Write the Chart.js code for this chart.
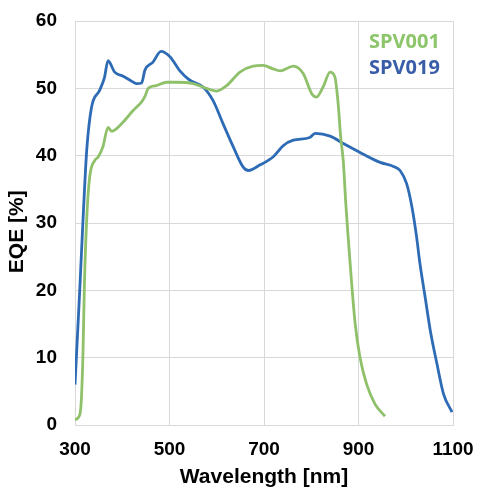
<!DOCTYPE html>
<html>
<head>
<meta charset="utf-8">
<script src="https://cdn.jsdelivr.net/npm/chart.js@4/dist/chart.umd.min.js"></script>
<style>
    html, body { margin: 0; padding: 0; background: #fff; overflow: hidden; }
    #wrap { width: 478px; height: 488px; position: relative; }
    #chart { display: block; }
</style>
</head>
<body>
<div id="wrap"><canvas id="chart"></canvas></div>
<script>
/*
    ----------> DATA <----------
*/

const seriesNames = ["SPV001", "SPV019"];

const spv001Wavelength = [300, 308, 313, 317, 320, 325, 331, 342, 349, 359, 370, 378, 386, 402, 423, 441, 448, 455, 472, 494, 515, 550, 578, 600, 621, 649, 677, 698, 719, 734, 762, 783, 801, 811, 825, 840, 850, 857, 862, 868, 873, 878, 885, 893, 903, 917, 935, 956];
const spv001Eqe = [0.8, 1.2, 3.2, 11, 21, 30.9, 36.8, 39.3, 39.8, 41.3, 44.2, 43.6, 43.9, 45, 46.7, 48, 48.8, 50, 50.4, 50.9, 50.9, 50.7, 50, 49.6, 50.4, 52.4, 53.3, 53.4, 52.9, 52.6, 53.3, 52.2, 49.2, 48.7, 50.2, 52.4, 51.7, 47.7, 43, 39, 33, 28, 21.5, 15, 10.1, 6.1, 3.1, 1.3];

const spv019Wavelength = [300, 310, 318, 325, 335, 352, 362, 370, 384, 402, 419, 430, 441, 448, 465, 482, 501, 522, 543, 571, 592, 613, 635, 656, 667, 691, 719, 741, 762, 797, 808, 840, 868, 908, 946, 974, 988, 1002, 1013, 1023, 1030, 1041, 1052, 1066, 1080, 1098];
const spv019Eqe = [6, 20, 32, 41, 47.2, 49.7, 51.5, 54.1, 52.4, 51.8, 51.1, 50.7, 50.8, 52.7, 53.9, 55.5, 54.7, 52.6, 51.2, 50.2, 48.2, 44.8, 41.3, 38.3, 37.8, 38.6, 39.8, 41.5, 42.3, 42.7, 43.3, 42.9, 41.8, 40.3, 39.0, 38.4, 37.8, 35.8, 32.4, 27.9, 24, 19, 14, 9.1, 4.6, 1.9];

const xTicks = [300, 500, 700, 900, 1100];
const yTicks = [0, 10, 20, 30, 40, 50, 60];

/*
    ----------> STYLE <----------
*/

const lineColors = ["#8fc06a", "#2e6bb5"];
const labelColors = ["#8cc56a", "#3a5da9"];
const gridColor = "#d9d9d9";
const fontFamily = "'Liberation Sans', Arial, sans-serif";
const tickFont = { family: fontFamily, size: 19, weight: "bold" };

function toPoints(xs, ys) {
    return xs.map((x, i) => ({ x, y: ys[i] }));
}

/* -----> LEGEND AS COLOURED TEXT <----- */

const textLegend = {
    id: "textLegend",
    afterDraw(chart) {
        const ctx = chart.ctx;
        ctx.save();
        ctx.font = "bold 20px 'Open Sans', sans-serif";
        ctx.textAlign = "left";
        ctx.textBaseline = "middle";
        chart.data.datasets.forEach((ds, i) => {
            ctx.fillStyle = labelColors[i];
            ctx.fillText(ds.label, 369, 42 + i * 26.5);
        });
        ctx.restore();
    }
};

/*
    ----------> CHART <----------
*/

new Chart(document.getElementById("chart"), {
    type: "line",
    data: {
        datasets: [
            {
                label: seriesNames[0],
                data: toPoints(spv001Wavelength, spv001Eqe),
                borderColor: lineColors[0],
                borderWidth: 2.8,
                pointRadius: 0,
                cubicInterpolationMode: "monotone",
                fill: false,
            },
            {
                label: seriesNames[1],
                data: toPoints(spv019Wavelength, spv019Eqe),
                borderColor: lineColors[1],
                borderWidth: 2.8,
                pointRadius: 0,
                cubicInterpolationMode: "monotone",
                fill: false,
            },
        ]
    },
    options: {
        responsive: true,
        maintainAspectRatio: false,
        animation: false,
        layout: {
            autoPadding: false,
            padding: { top: 21, right: 25, bottom: 0, left: 0 }
        },
        plugins: {
            legend: { display: false },
            tooltip: { enabled: false },
        },
        scales: {
            x: {
                type: "linear",
                min: xTicks[0],
                max: xTicks[xTicks.length - 1],
                afterBuildTicks: scale => { scale.ticks = xTicks.map(v => ({ value: v })); },
                afterFit: scale => {
                    scale.height = 63;
                    scale.paddingLeft = 0;
                    scale.paddingRight = 0;
                },
                grid: { color: gridColor, drawTicks: false },
                border: { color: gridColor },
                ticks: { color: "#000", font: tickFont, padding: 13, maxRotation: 0, callback: v => String(v) },
                title: {
                    display: true,
                    text: "Wavelength [nm]",
                    color: "#000",
                    font: { family: fontFamily, size: 21, weight: "bold", lineHeight: 1 },
                    padding: 0,
                },
            },
            y: {
                min: yTicks[0],
                max: yTicks[yTicks.length - 1],
                afterBuildTicks: scale => { scale.ticks = yTicks.map(v => ({ value: v })); },
                afterFit: scale => {
                    scale.width = 75;
                    scale.paddingTop = 0;
                    scale.paddingBottom = 0;
                },
                grid: { color: gridColor, drawTicks: false },
                border: { color: gridColor },
                ticks: { color: "#000", font: tickFont, padding: 18, callback: v => String(v) },
                title: {
                    display: true,
                    text: "EQE [%]   ",
                    color: "#000",
                    font: { family: fontFamily, size: 21, weight: "bold", lineHeight: 1.2 },
                    padding: { top: 4.5, bottom: 0 },
                },
            },
        },
    },
    plugins: [textLegend],
});
</script>
</body>
</html>
